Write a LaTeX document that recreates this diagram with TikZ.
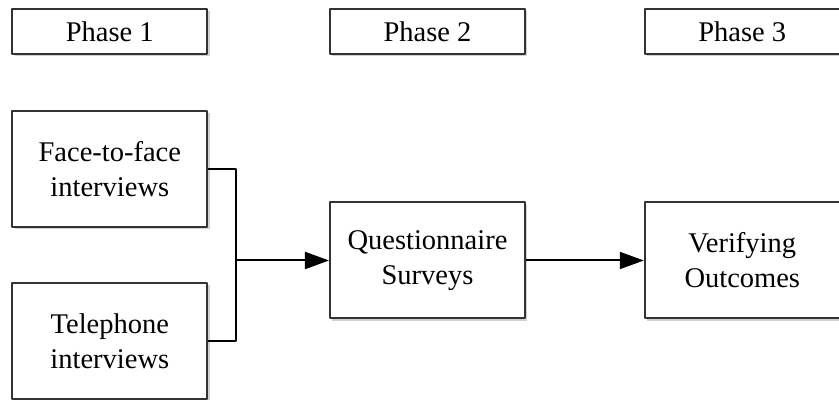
\documentclass[tikz,border=0pt]{standalone}
\usepackage{fontspec}
\setmainfont{Liberation Serif}
\usetikzlibrary{arrows.meta,shadows}
\tikzset{
  box/.style={draw=black!80, line width=1bp, fill=white, minimum width=97.5bp, align=center,
    drop shadow={shadow xshift=1.2bp, shadow yshift=-1.2bp, fill=black!30, opacity=0.6}},
  phasebox/.style={box, minimum height=22.5bp},
  stepbox/.style={box, minimum height=58bp},
}
\begin{document}
\begin{tikzpicture}[x=0.5bp, y=-0.5bp, font=\fontsize{14.3}{17.5}\selectfont, line join=round, >={Triangle[length=12bp,width=8.5bp]}]
		\useasboundingbox (0,0) rectangle (839,400);
		% phases
		\foreach \n/\x in{1/109.8,2/427.5,3/742.3}{
		\node[phasebox] (phase\n) at (\x,31.5) {Phase \n};
		}
		% steps
		\node[stepbox] (face) at (109.8,168.7) {Face-to-face\\interviews};
		\node[stepbox] (tel) at (109.8,341) {Telephone\\interviews};
		\node[stepbox] (quest) at (427.5,260.5) {Questionnaire\\Surveys};
		\node[stepbox] (verify) at (742.3,260.5) {Verifying\\Outcomes};
		\coordinate (join) at (236,260.5);
		\draw[line width=1bp] (face.east) -| (join) |- (tel.east);
		\draw[->, line width=1bp] (join) -- (quest.west);
		\draw[->, line width=1bp] (quest.east) -- (verify.west);
	\end{tikzpicture}
\end{document}
